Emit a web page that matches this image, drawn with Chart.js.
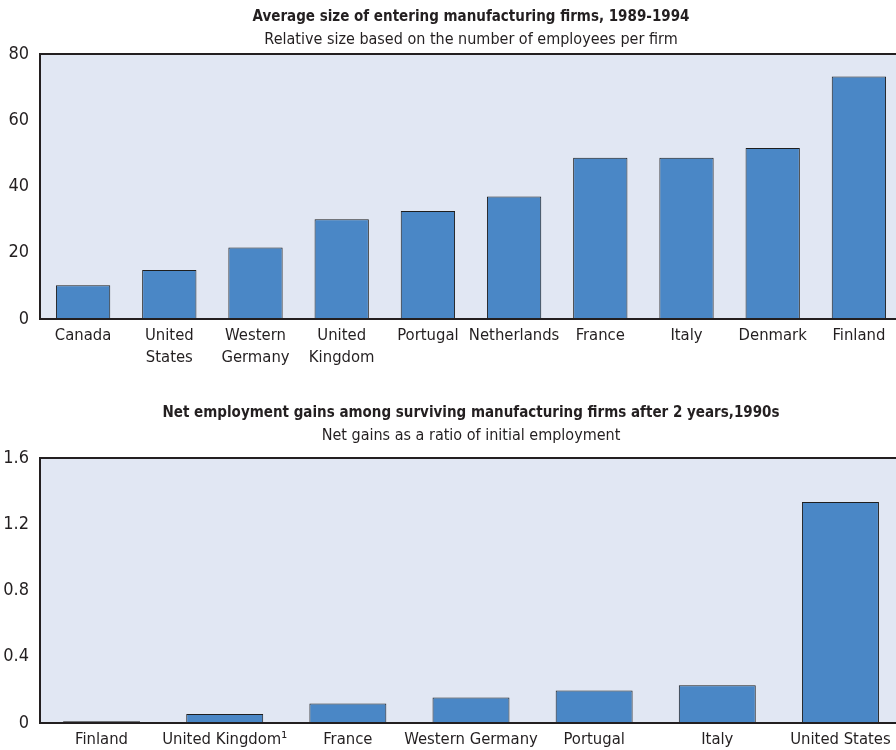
<!DOCTYPE html>
<html>
<head>
    <script src="https://cdn.jsdelivr.net/npm/chart.js@4.4.1/dist/chart.umd.min.js"></script>
    <title>Entering manufacturing firms</title>
    <style>
        html, body { margin: 0; padding: 0; background: #fff; overflow: hidden; }
        .box { position: relative; width: 902px; }
    </style>
</head>
<body>
<div class="box" style="height:385px;"><canvas id="sizeChart" width="902" height="385"></canvas></div>
<div class="box" style="height:400px;"><canvas id="gainChart" width="902" height="400"></canvas></div>

<script>
    // chart 1: average size of entering firms
    var sizeCountries = ['Canada', ['United', 'States'], ['Western', 'Germany'], ['United', 'Kingdom'], 'Portugal',
        'Netherlands', 'France', 'Italy', 'Denmark', 'Finland'];
    var sizeValues = [10.2, 14.8, 21.6, 30.1, 32.6, 37.0, 48.7, 48.7, 51.6, 73.2];
    var sizeTicks = [0, 20, 40, 60, 80];

    // chart 2: net employment gains after 2 years
    var gainCountries = ['Finland', 'United Kingdom\u00b9', 'France', 'Western Germany', 'Portugal', 'Italy', 'United States'];
    var gainValues = [0.01, 0.054, 0.117, 0.154, 0.196, 0.228, 1.334];
    var gainTicks = [0, 0.4, 0.8, 1.2, 1.6];

    var FONT = "'Liberation Sans Narrow', 'DejaVu Sans Condensed', 'Arial Narrow', sans-serif";
    var INK = '#231f20';

    // light panel behind the bars + frame lines drawn over the bars
    var plotFrame = {
        id: 'plotFrame',
        beforeDatasetsDraw: function(chart) {
            var a = chart.chartArea, ctx = chart.ctx;
            ctx.save();
            ctx.fillStyle = '#e1e7f3';
            ctx.fillRect(a.left, a.top, a.right - a.left, a.bottom - a.top);
            ctx.restore();
        },
        afterDatasetsDraw: function(chart) {
            var a = chart.chartArea, ctx = chart.ctx;
            ctx.save();
            ctx.strokeStyle = INK;
            ctx.lineWidth = 2;
            ctx.beginPath();
            ctx.moveTo(a.right, a.top);
            ctx.lineTo(a.left, a.top);
            ctx.lineTo(a.left, a.bottom);
            ctx.lineTo(a.right, a.bottom);
            ctx.stroke();
            ctx.restore();
        }
    };

    function makeChart(id, labels, values, ticks, barPct, title, subtitle, titleTop, subBottom, axisHeight) {
        var ctx = document.getElementById(id).getContext('2d');
        return new Chart(ctx, {
            type: 'bar',
            data: {
                labels: labels,
                datasets: [{
                    data: values,
                    backgroundColor: '#4a87c6',
                    borderColor: '#1e1e1e',
                    borderWidth: 1,
                    borderSkipped: 'bottom',
                    categoryPercentage: 1,
                    barPercentage: barPct
                }]
            },
            options: {
                responsive: false,
                animation: false,
                layout: { padding: 0 },
                scales: {
                    x: {
                        grid: { display: false, drawTicks: false },
                        border: { display: false },
                        ticks: {
                            color: INK,
                            font: { family: FONT, size: 16.5, lineHeight: 1.33 },
                            padding: 6,
                            maxRotation: 0,
                            autoSkip: false
                        },
                        afterFit: function(scale) { scale.height = axisHeight; }
                    },
                    y: {
                        min: ticks[0],
                        max: ticks[ticks.length - 1],
                        afterBuildTicks: function(scale) {
                            scale.ticks = ticks.map(function(v) { return { value: v }; });
                        },
                        grid: { display: false, drawTicks: false },
                        border: { display: false },
                        ticks: {
                            color: INK,
                            font: { family: FONT, size: 18 },
                            padding: 11
                        },
                        afterFit: function(scale) { scale.width = 40; }
                    }
                },
                plugins: {
                    legend: { display: false },
                    tooltip: { enabled: false },
                    title: {
                        display: true,
                        text: title,
                        fullSize: false,
                        color: INK,
                        font: { family: FONT, size: 15, weight: 'bold', lineHeight: 1.2 },
                        padding: { top: titleTop, bottom: 4.4 }
                    },
                    subtitle: {
                        display: true,
                        text: subtitle,
                        fullSize: false,
                        color: INK,
                        font: { family: FONT, size: 16, lineHeight: 1.2 },
                        padding: { top: 0, bottom: subBottom }
                    }
                }
            },
            plugins: [plotFrame]
        });
    }

    makeChart('sizeChart', sizeCountries, sizeValues, sizeTicks, 0.63,
        'Average size of entering manufacturing firms, 1989-1994',
        'Relative size based on the number of employees per firm', 8, 4.4, 66);

    makeChart('gainChart', gainCountries, gainValues, gainTicks, 0.625,
        'Net employment gains among surviving manufacturing firms after 2 years,1990s',
        'Net gains as a ratio of initial employment', 19, 12.4, 62);
</script>
</body>
</html>
